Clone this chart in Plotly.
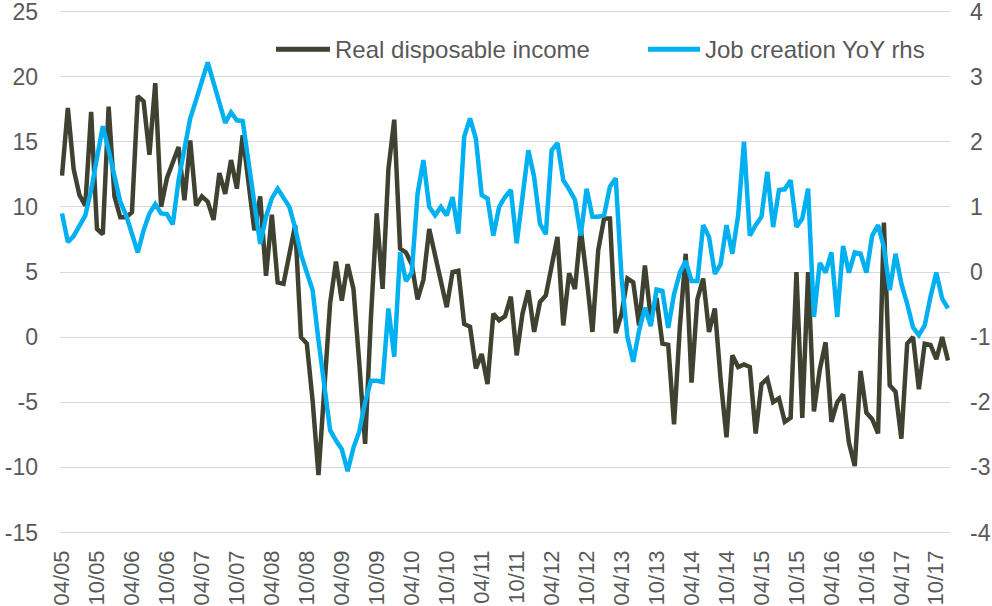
import pandas as pd
import plotly.graph_objects as go

# Monthly categories 04/05 .. 12/17
months = [d.strftime("%m/%y") for d in pd.date_range("2005-04-01", "2017-12-01", freq="MS")]

real_disposable_income = [
    12.4, 17.6, 12.9, 10.9, 10.1, 17.3, 8.3, 7.9, 17.7, 10.8,
    9.2, 9.2, 9.6, 18.5, 18.1, 14.0, 19.5, 10.0, 12.2, 13.3,
    14.6, 10.5, 15.1, 10.1, 10.8, 10.4, 9.0, 12.6, 11.0, 13.6,
    11.4, 15.5, 11.8, 8.2, 10.8, 4.7, 9.4, 4.2, 4.1, 6.4,
    8.6, 0.0, -0.5, -4.9, -10.6, -4.0, 2.6, 5.8, 2.8, 5.6,
    3.7, -2.0, -8.2, 1.5, 9.5, 3.7, 12.9, 16.7, 6.8, 6.5,
    5.6, 2.9, 4.4, 8.3, 6.2, 4.1, 2.3, 5.0, 5.1, 1.0,
    0.8, -2.4, -1.3, -3.6, 1.8, 1.3, 1.6, 3.1, -1.4, 1.8,
    3.6, 0.4, 2.7, 3.2, 5.4, 7.7, 0.9, 4.9, 3.7, 8.3,
    4.6, 0.4, 6.7, 9.1, 9.1, 0.3, 1.8, 4.5, 4.2, 0.9,
    5.5, 1.5, 3.0, -0.5, -0.6, -6.7, 0.8, 6.4, -3.5, 2.9,
    4.5, 0.4, 2.2, -3.3, -7.7, -1.4, -2.3, -2.1, -2.3, -7.4,
    -3.6, -3.2, -5.0, -4.7, -6.5, -6.2, 5.0, -6.2, 5.0, -5.7,
    -2.5, -0.4, -6.5, -5.0, -4.4, -8.1, -9.9, -2.6, -5.8, -6.3,
    -7.4, 8.8, -3.7, -4.2, -7.8, -0.5, 0.0, -4.0, -0.5, -0.6,
    -1.7, 0.0, -1.8,
]

job_creation_yoy = [
    0.90, 0.46, 0.55, 0.70, 0.87, 1.26, 1.72, 2.24, 1.87, 1.51,
    1.08, 0.87, 0.59, 0.30, 0.64, 0.90, 1.04, 0.90, 0.89, 0.73,
    1.41, 1.92, 2.36, 2.64, 2.95, 3.22, 2.91, 2.60, 2.29, 2.45,
    2.33, 2.32, 1.67, 1.00, 0.43, 0.85, 1.13, 1.28, 1.15, 1.00,
    0.68, 0.27, -0.01, -0.28, -1.05, -1.77, -2.43, -2.59, -2.72, -3.06,
    -2.70, -2.45, -2.00, -1.67, -1.67, -1.69, -0.56, -1.30, 0.30, -0.14,
    -0.01, 1.20, 1.72, 1.00, 0.87, 1.00, 0.87, 1.15, 0.59, 2.08,
    2.36, 2.05, 1.18, 1.13, 0.56, 1.00, 1.15, 1.26, 0.44, 1.15,
    1.87, 1.46, 0.74, 0.58, 1.87, 1.98, 1.41, 1.27, 1.11, 0.56,
    1.28, 0.85, 0.85, 0.87, 1.31, 1.44, -0.09, -1.00, -1.38, -0.90,
    -0.55, -0.83, -0.27, -0.29, -0.86, -0.34, -0.01, 0.17, -0.14, -0.14,
    0.72, 0.54, -0.03, 0.12, 0.72, 0.28, 0.87, 2.00, 0.56, 0.72,
    0.85, 1.54, 0.69, 1.26, 1.27, 1.41, 0.69, 0.82, 1.28, -0.69,
    0.14, -0.01, 0.30, -0.69, 0.40, -0.01, 0.30, 0.28, -0.01, 0.56,
    0.72, 0.38, -0.28, 0.28, -0.18, -0.49, -0.85, -0.97, -0.82, -0.38,
    -0.01, -0.41, -0.56,
]

tick_labels = months[::6]
left_ticks = [-15, -10, -5, 0, 5, 10, 15, 20, 25]
right_ticks = [-4, -3, -2, -1, 0, 1, 2, 3, 4]

DARK = "#3f4230"
BLUE = "#00b0f0"
TXT = "#595959"
FONT = "Liberation Sans, Arial, sans-serif"
FS = 23

fig = go.Figure()
fig.add_trace(go.Scatter(x=months, y=real_disposable_income, mode="lines",
                         name="Real disposable income",
                         line=dict(color=DARK, width=4.5), yaxis="y"))
fig.add_trace(go.Scatter(x=months, y=job_creation_yoy, mode="lines",
                         name="Job creation YoY rhs",
                         line=dict(color=BLUE, width=4.5), yaxis="y2"))

fig.update_layout(
    width=992, height=606,
    margin=dict(l=60, r=42, t=10, b=72, autoexpand=False),
    paper_bgcolor="white", plot_bgcolor="white",
    showlegend=False,
    font=dict(family=FONT, color=TXT, size=FS),
    xaxis=dict(type="category", categoryorder="array", categoryarray=months,
               range=[-0.343, len(months) - 1 + 0.343],
               tickmode="array", tickvals=tick_labels, ticktext=tick_labels,
               tickangle=-90, showgrid=False, zeroline=False, showline=False,
               ticks="", ticklabelstandoff=11, automargin=False,
               ticklabeloverflow="allow",
               tickfont=dict(size=22, color=TXT, family=FONT)),
    yaxis=dict(range=[-15.12, 25.12], tickmode="array", tickvals=left_ticks,
               ticktext=[str(v) for v in left_ticks], showgrid=True,
               gridcolor="#d9d9d9", gridwidth=1.3, zeroline=False,
               showline=False, ticks="", ticklabelstandoff=21, automargin=False,
               ticklabeloverflow="allow",
               tickfont=dict(size=FS, color=TXT, family=FONT)),
    yaxis2=dict(range=[-4.024, 4.024], tickmode="array", tickvals=right_ticks,
                ticktext=[str(v) for v in right_ticks],
                overlaying="y", side="right",
                showgrid=False, zeroline=False, showline=False, ticks="",
                ticklabelstandoff=19, automargin=False,
                ticklabeloverflow="allow",
                tickfont=dict(size=FS, color=TXT, family=FONT)),
)

# Legend drawn as line samples + text labels
leg_y = 0.925
legend_items = [
    ("Real disposable income", DARK, 0.2427, 0.3034),
    ("Job creation YoY rhs", BLUE, 0.6607, 0.7191),
]
for label, color, x0, x1 in legend_items:
    fig.add_shape(type="line", xref="paper", yref="paper", x0=x0, x1=x1,
                  y0=leg_y, y1=leg_y, line=dict(color=color, width=5))
    fig.add_annotation(xref="paper", yref="paper", x=x1 + 0.003, y=leg_y,
                       xanchor="left", yanchor="middle", text=label,
                       showarrow=False,
                       font=dict(size=24, color=TXT, family=FONT))

fig.write_html("out.html")
